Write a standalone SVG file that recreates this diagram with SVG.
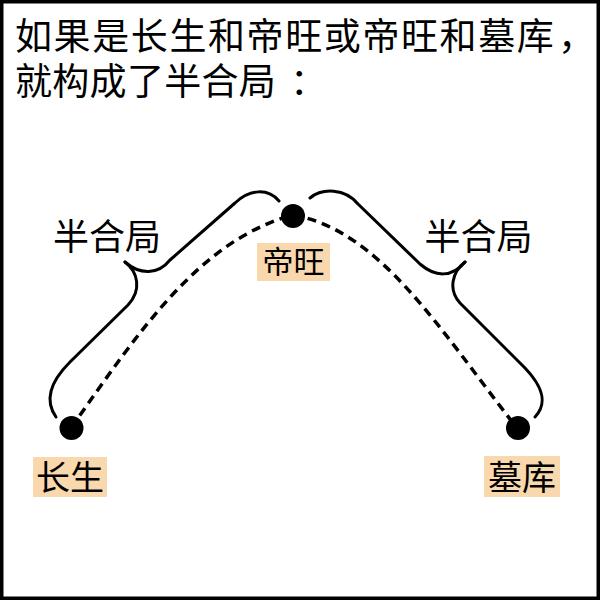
<svg xmlns="http://www.w3.org/2000/svg" width="600" height="600" viewBox="0 0 600 600">
  <style>
    .t { font-family: "Noto Sans CJK SC", "Noto Sans", sans-serif; fill: #000; }
    .title { font-size: 37px; }
    .half { font-size: 36px; text-anchor: middle; }
    .lbl { text-anchor: middle; }
    .bg { fill: #fad8ae; }
    .dot { fill: #000; }
    .brace { fill: none; stroke: #000; stroke-width: 3; stroke-linecap: round; stroke-linejoin: round; }
    .dash { fill: none; stroke: #000; stroke-width: 3.5; stroke-dasharray: 9 6; }
  </style>
  <rect x="0" y="0" width="600" height="600" fill="#fff"/>
  <rect x="1.75" y="1.75" width="596.5" height="596.5" fill="none" stroke="#000" stroke-width="3.5"/>

  <g id="title">
    <text class="t title" x="15" y="49.5" letter-spacing="1.6">如果是长生和帝旺或帝旺和墓库</text>
    <text class="t title" x="558" y="49.5">，</text>
    <text class="t title" x="15" y="94.5" letter-spacing="0.3">就构成了半合局</text>
    <text class="t title" x="290" y="94.5">：</text>
  </g>

  <g id="connectors">
    <path class="dash" d="M 71 428 C 140 330, 200 240, 293 215"/>
    <path class="dash" d="M 293 215 C 380 230, 440 330, 517 428"/>
    <path class="brace" d="M 279 201 C 268 188, 250 189, 235 203 L 170 260 C 158 275, 140 275, 125 262"/>
    <path class="brace" d="M 125 262 C 138 272, 142 290, 128 305 L 70 362 C 50 382, 44 400, 56 417"/>
    <path class="brace" d="M 310 198 C 322 188, 345 188, 358 204 L 420 264 C 435 277, 452 278, 465 262"/>
    <path class="brace" d="M 465 262 C 452 272, 448 290, 460 303 L 525 368 C 543 387, 548 403, 535 417"/>
  </g>

  <g id="label-left">
    <text class="t half" x="107" y="249.5">半合局</text>
  </g>
  <g id="label-right">
    <text class="t half" x="478.5" y="249.5">半合局</text>
  </g>

  <g id="node-diwang">
    <circle class="dot" cx="293" cy="216" r="12"/>
    <rect class="bg" x="257" y="243" width="73" height="38"/>
    <text class="t lbl" x="293.5" y="273" font-size="31">帝旺</text>
  </g>
  <g id="node-changsheng">
    <circle class="dot" cx="71.5" cy="428" r="12"/>
    <rect class="bg" x="33" y="457" width="74" height="40"/>
    <text class="t lbl" x="70" y="489.5" font-size="34">长生</text>
  </g>
  <g id="node-muku">
    <circle class="dot" cx="518" cy="428" r="12"/>
    <rect class="bg" x="484" y="456" width="76" height="41"/>
    <text class="t lbl" x="522" y="489.5" font-size="34">墓库</text>
  </g>
</svg>
